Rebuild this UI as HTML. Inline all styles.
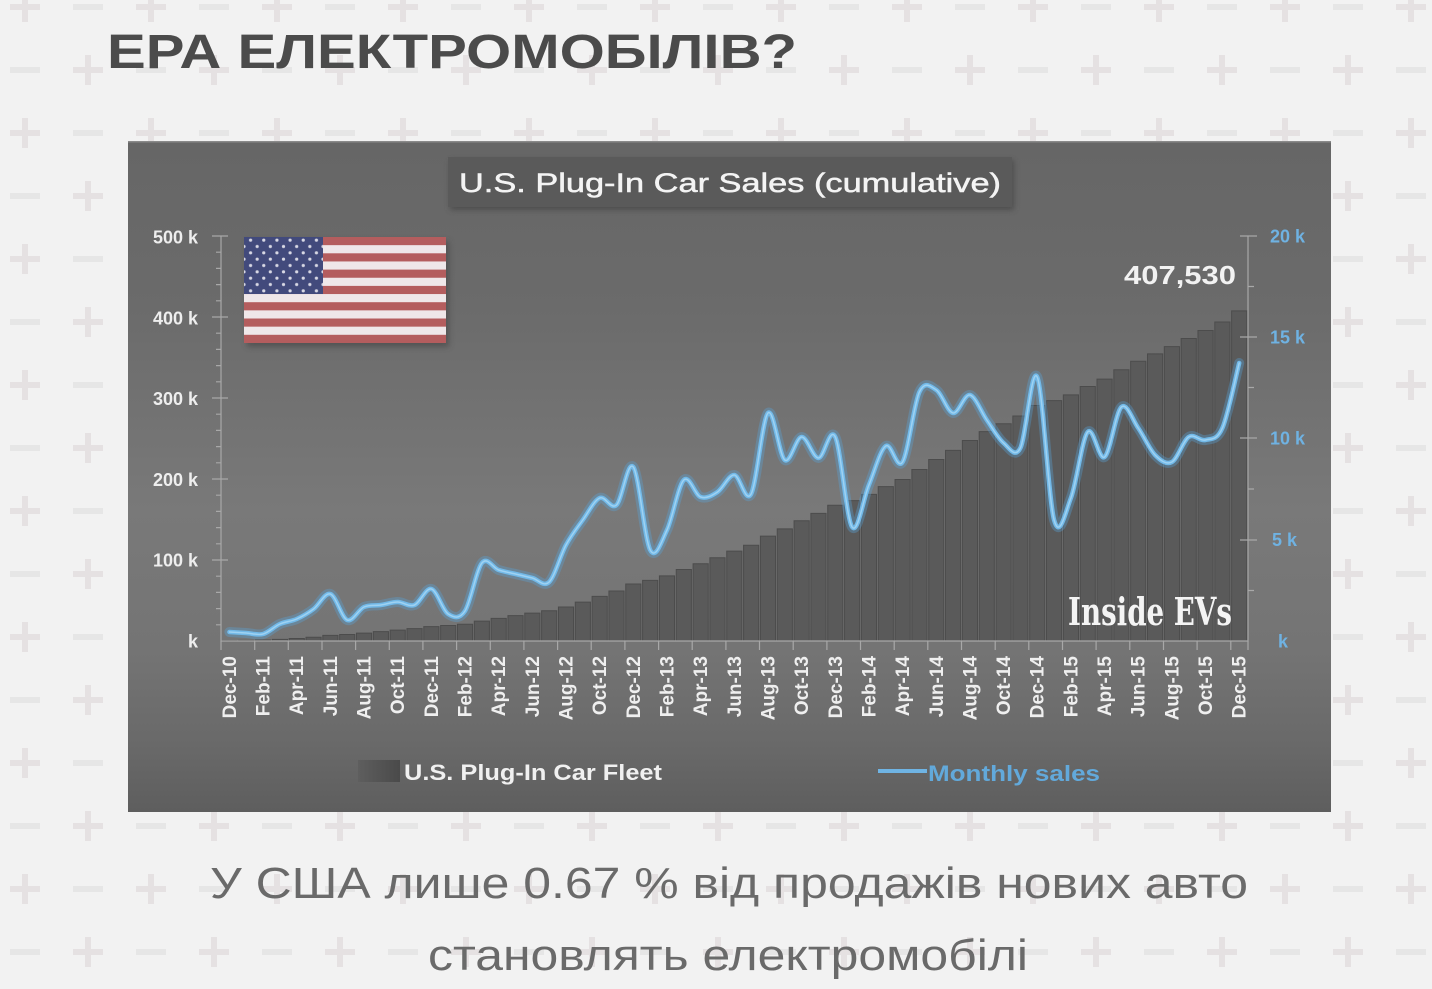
<!DOCTYPE html>
<html><head><meta charset="utf-8">
<style>
html,body{margin:0;padding:0;background:#f2f2f2;}
svg{display:block;}
.ax{font-family:"Liberation Sans",sans-serif;font-weight:bold;font-size:18px;fill:#eeeeee;}
.axr{font-family:"Liberation Sans",sans-serif;font-weight:bold;font-size:18px;fill:#6fb2e2;}
.xl{font-family:"Liberation Sans",sans-serif;font-weight:bold;font-size:19px;fill:#efefef;}
.glow{fill:none;stroke:#5aa6dc;stroke-opacity:0.35;stroke-width:10;stroke-linejoin:round;stroke-linecap:round;}
.ln{fill:none;stroke:#72b9e8;stroke-width:4.5;stroke-linejoin:round;stroke-linecap:round;}
.ln2{fill:none;stroke:#9fd2f2;stroke-width:1.5;stroke-linejoin:round;stroke-linecap:round;}
</style></head>
<body>
<svg width="1432" height="989" viewBox="0 0 1432 989" xmlns="http://www.w3.org/2000/svg">
<defs>
  <pattern id="pm" x="-6.5" y="-24.5" width="126" height="126" patternUnits="userSpaceOnUse">
    <g fill="#e5e1e2">
      <rect x="16.5" y="28.5" width="30" height="6"/><rect x="28.5" y="16.5" width="6" height="30"/>
      <rect x="79.5" y="91.5" width="30" height="6"/><rect x="91.5" y="79.5" width="6" height="30"/>
    </g>
    <g fill="#e6e6e6">
      <rect x="79.5" y="28.5" width="30" height="6"/>
      <rect x="16.5" y="91.5" width="30" height="6"/>
    </g>
  </pattern>
  <linearGradient id="pbg" x1="0" y1="0" x2="0" y2="1">
    <stop offset="0" stop-color="#666666"/>
    <stop offset="0.25" stop-color="#6b6b6b"/>
    <stop offset="0.55" stop-color="#797979"/>
    <stop offset="0.76" stop-color="#747474"/>
    <stop offset="0.9" stop-color="#696969"/>
    <stop offset="1" stop-color="#5e5e5e"/>
  </linearGradient>
  <linearGradient id="sw" x1="0" y1="0" x2="1" y2="0">
    <stop offset="0" stop-color="#5e5e5e"/>
    <stop offset="1" stop-color="#4a4a4a"/>
  </linearGradient>
  <filter id="blur3" x="-20%" y="-20%" width="140%" height="140%"><feGaussianBlur stdDeviation="3"/></filter>
  <pattern id="stars" x="244" y="237" width="13.17" height="12.67" patternUnits="userSpaceOnUse">
    <circle cx="6.58" cy="3.2" r="1.6" fill="#d8d8e4"/>
    <circle cx="0" cy="9.5" r="1.6" fill="#d8d8e4"/>
    <circle cx="13.17" cy="9.5" r="1.6" fill="#d8d8e4"/>
  </pattern>
</defs>

<rect x="0" y="0" width="1432" height="989" fill="#f2f2f2"/>
<rect x="0" y="0" width="1432" height="989" fill="url(#pm)"/>

<text x="107" y="68" font-family="'Liberation Sans','DejaVu Sans',sans-serif" font-weight="bold" font-size="48" fill="#4b4b4b" textLength="690" lengthAdjust="spacingAndGlyphs">ЕРА ЕЛЕКТРОМОБІЛІВ?</text>

<rect x="128" y="141" width="1203" height="671" fill="url(#pbg)"/>
<rect x="128" y="141" width="1203" height="1.5" fill="#8a8a8a"/>

<rect x="450" y="160" width="564" height="50" fill="#3e3e3e" opacity="0.6" filter="url(#blur3)"/>
<rect x="448" y="157" width="564" height="50" fill="#5a5a5a"/>
<text x="730" y="192" text-anchor="middle" font-family="'Liberation Sans',sans-serif" font-size="27" fill="#f4f4f4" stroke="#f4f4f4" stroke-width="0.5" textLength="542" lengthAdjust="spacingAndGlyphs">U.S. Plug-In Car Sales (cumulative)</text>

<rect x="247" y="241" width="202" height="106" fill="#3a3a3a" opacity="0.5" filter="url(#blur3)"/>
<g>
  <rect x="244" y="237" width="202" height="106" fill="#efe7e9"/>
  <g fill="#b45d5e">
    <rect x="244" y="237" width="202" height="8.15"/>
    <rect x="244" y="253.3" width="202" height="8.15"/>
    <rect x="244" y="269.6" width="202" height="8.15"/>
    <rect x="244" y="285.9" width="202" height="8.15"/>
    <rect x="244" y="302.2" width="202" height="8.15"/>
    <rect x="244" y="318.5" width="202" height="8.15"/>
    <rect x="244" y="334.8" width="202" height="8.2"/>
  </g>
  <rect x="244" y="237" width="79" height="57" fill="#424a7c"/>
  <rect x="244" y="237" width="79" height="57" fill="url(#stars)"/>
</g>

<g transform="translate(221,641) scale(16.83,-0.81)" fill="#5a5a5a" stroke="#4c4c4c" stroke-width="1">
<rect vector-effect="non-scaling-stroke" x="0.05" y="0" width="0.9" height="0.44"/>
<rect vector-effect="non-scaling-stroke" x="1.05" y="0" width="0.9" height="0.84"/>
<rect vector-effect="non-scaling-stroke" x="2.05" y="0" width="0.9" height="1.19"/>
<rect vector-effect="non-scaling-stroke" x="3.05" y="0" width="0.9" height="2.03"/>
<rect vector-effect="non-scaling-stroke" x="4.05" y="0" width="0.9" height="3.12"/>
<rect vector-effect="non-scaling-stroke" x="5.05" y="0" width="0.9" height="4.70"/>
<rect vector-effect="non-scaling-stroke" x="6.05" y="0" width="0.9" height="7.02"/>
<rect vector-effect="non-scaling-stroke" x="7.05" y="0" width="0.9" height="8.06"/>
<rect vector-effect="non-scaling-stroke" x="8.05" y="0" width="0.9" height="9.74"/>
<rect vector-effect="non-scaling-stroke" x="9.05" y="0" width="0.9" height="11.52"/>
<rect vector-effect="non-scaling-stroke" x="10.05" y="0" width="0.9" height="13.45"/>
<rect vector-effect="non-scaling-stroke" x="11.05" y="0" width="0.9" height="15.23"/>
<rect vector-effect="non-scaling-stroke" x="12.05" y="0" width="0.9" height="17.80"/>
<rect vector-effect="non-scaling-stroke" x="13.05" y="0" width="0.9" height="19.13"/>
<rect vector-effect="non-scaling-stroke" x="14.05" y="0" width="0.9" height="20.61"/>
<rect vector-effect="non-scaling-stroke" x="15.05" y="0" width="0.9" height="24.46"/>
<rect vector-effect="non-scaling-stroke" x="16.05" y="0" width="0.9" height="27.97"/>
<rect vector-effect="non-scaling-stroke" x="17.05" y="0" width="0.9" height="31.28"/>
<rect vector-effect="non-scaling-stroke" x="18.05" y="0" width="0.9" height="34.39"/>
<rect vector-effect="non-scaling-stroke" x="19.05" y="0" width="0.9" height="37.30"/>
<rect vector-effect="non-scaling-stroke" x="20.05" y="0" width="0.9" height="42.04"/>
<rect vector-effect="non-scaling-stroke" x="21.05" y="0" width="0.9" height="48.02"/>
<rect vector-effect="non-scaling-stroke" x="22.05" y="0" width="0.9" height="55.08"/>
<rect vector-effect="non-scaling-stroke" x="23.05" y="0" width="0.9" height="61.80"/>
<rect vector-effect="non-scaling-stroke" x="24.05" y="0" width="0.9" height="70.39"/>
<rect vector-effect="non-scaling-stroke" x="25.05" y="0" width="0.9" height="74.88"/>
<rect vector-effect="non-scaling-stroke" x="26.05" y="0" width="0.9" height="80.36"/>
<rect vector-effect="non-scaling-stroke" x="27.05" y="0" width="0.9" height="88.31"/>
<rect vector-effect="non-scaling-stroke" x="28.05" y="0" width="0.9" height="95.42"/>
<rect vector-effect="non-scaling-stroke" x="29.05" y="0" width="0.9" height="102.78"/>
<rect vector-effect="non-scaling-stroke" x="30.05" y="0" width="0.9" height="110.98"/>
<rect vector-effect="non-scaling-stroke" x="31.05" y="0" width="0.9" height="118.24"/>
<rect vector-effect="non-scaling-stroke" x="32.05" y="0" width="0.9" height="129.50"/>
<rect vector-effect="non-scaling-stroke" x="33.05" y="0" width="0.9" height="138.44"/>
<rect vector-effect="non-scaling-stroke" x="34.05" y="0" width="0.9" height="148.51"/>
<rect vector-effect="non-scaling-stroke" x="35.05" y="0" width="0.9" height="157.55"/>
<rect vector-effect="non-scaling-stroke" x="36.05" y="0" width="0.9" height="167.62"/>
<rect vector-effect="non-scaling-stroke" x="37.05" y="0" width="0.9" height="173.25"/>
<rect vector-effect="non-scaling-stroke" x="38.05" y="0" width="0.9" height="180.95"/>
<rect vector-effect="non-scaling-stroke" x="39.05" y="0" width="0.9" height="190.58"/>
<rect vector-effect="non-scaling-stroke" x="40.05" y="0" width="0.9" height="199.42"/>
<rect vector-effect="non-scaling-stroke" x="41.05" y="0" width="0.9" height="211.72"/>
<rect vector-effect="non-scaling-stroke" x="42.05" y="0" width="0.9" height="224.12"/>
<rect vector-effect="non-scaling-stroke" x="43.05" y="0" width="0.9" height="235.38"/>
<rect vector-effect="non-scaling-stroke" x="44.05" y="0" width="0.9" height="247.53"/>
<rect vector-effect="non-scaling-stroke" x="45.05" y="0" width="0.9" height="258.44"/>
<rect vector-effect="non-scaling-stroke" x="46.05" y="0" width="0.9" height="268.22"/>
<rect vector-effect="non-scaling-stroke" x="47.05" y="0" width="0.9" height="277.75"/>
<rect vector-effect="non-scaling-stroke" x="48.05" y="0" width="0.9" height="290.79"/>
<rect vector-effect="non-scaling-stroke" x="49.05" y="0" width="0.9" height="296.77"/>
<rect vector-effect="non-scaling-stroke" x="50.05" y="0" width="0.9" height="303.83"/>
<rect vector-effect="non-scaling-stroke" x="51.05" y="0" width="0.9" height="314.15"/>
<rect vector-effect="non-scaling-stroke" x="52.05" y="0" width="0.9" height="323.24"/>
<rect vector-effect="non-scaling-stroke" x="53.05" y="0" width="0.9" height="334.80"/>
<rect vector-effect="non-scaling-stroke" x="54.05" y="0" width="0.9" height="345.32"/>
<rect vector-effect="non-scaling-stroke" x="55.05" y="0" width="0.9" height="354.51"/>
<rect vector-effect="non-scaling-stroke" x="56.05" y="0" width="0.9" height="363.35"/>
<rect vector-effect="non-scaling-stroke" x="57.05" y="0" width="0.9" height="373.42"/>
<rect vector-effect="non-scaling-stroke" x="58.05" y="0" width="0.9" height="383.35"/>
<rect vector-effect="non-scaling-stroke" x="59.05" y="0" width="0.9" height="393.87"/>
<rect vector-effect="non-scaling-stroke" x="60.05" y="0" width="0.9" height="407.53"/>
</g>

<g stroke="#a8a8a8" stroke-width="1.2" fill="none">
  <path d="M221,236V641H1248V236"/>
  <path d="M212,236H228M212,317H228M212,398H228M212,479H228M212,560H228"/>
  <path d="M216,252.2H221M216,268.4H221M216,284.6H221M216,300.8H221M216,333.2H221M216,349.4H221M216,365.6H221M216,381.8H221M216,414.2H221M216,430.4H221M216,446.6H221M216,462.8H221M216,495.2H221M216,511.4H221M216,527.6H221M216,543.8H221M216,576.2H221M216,592.4H221M216,608.6H221M216,624.8H221"/>
  <path d="M1240,236H1257M1240,337H1257M1240,438H1257M1240,540H1257M1248,286.5H1254M1248,387.5H1254M1248,489H1254M1248,590.5H1254"/>
  <path d="M221,641v9M254.7,641v9M288.3,641v9M322,641v9M355.6,641v9M389.3,641v9M422.9,641v9M456.6,641v9M490.3,641v9M523.9,641v9M557.6,641v9M591.2,641v9M624.9,641v9M658.6,641v9M692.2,641v9M725.9,641v9M759.5,641v9M793.2,641v9M826.9,641v9M860.5,641v9M894.2,641v9M927.8,641v9M961.5,641v9M995.2,641v9M1028.8,641v9M1062.5,641v9M1096.1,641v9M1129.8,641v9M1163.5,641v9M1197.1,641v9M1230.8,641v9M1248,641v9"/>
</g>

<g class="ax" text-anchor="end">
  <text x="198" y="243.5">500 k</text>
  <text x="198" y="324.5">400 k</text>
  <text x="198" y="405">300 k</text>
  <text x="198" y="486">200 k</text>
  <text x="198" y="566.5">100 k</text>
  <text x="198" y="647.5">k</text>
</g>
<g class="axr">
  <text x="1270" y="242.5">20 k</text>
  <text x="1270" y="343.5">15 k</text>
  <text x="1270" y="444.5">10 k</text>
  <text x="1272" y="546">5 k</text>
  <text x="1278" y="647.5">k</text>
</g>

<g class="xl" text-anchor="end">
  <text transform="translate(235.9,656) rotate(-90)">Dec-10</text>
  <text transform="translate(269.6,656) rotate(-90)">Feb-11</text>
  <text transform="translate(303.2,656) rotate(-90)">Apr-11</text>
  <text transform="translate(336.9,656) rotate(-90)">Jun-11</text>
  <text transform="translate(370.5,656) rotate(-90)">Aug-11</text>
  <text transform="translate(404.2,656) rotate(-90)">Oct-11</text>
  <text transform="translate(437.9,656) rotate(-90)">Dec-11</text>
  <text transform="translate(471.5,656) rotate(-90)">Feb-12</text>
  <text transform="translate(505.2,656) rotate(-90)">Apr-12</text>
  <text transform="translate(538.8,656) rotate(-90)">Jun-12</text>
  <text transform="translate(572.5,656) rotate(-90)">Aug-12</text>
  <text transform="translate(606.2,656) rotate(-90)">Oct-12</text>
  <text transform="translate(639.8,656) rotate(-90)">Dec-12</text>
  <text transform="translate(673.5,656) rotate(-90)">Feb-13</text>
  <text transform="translate(707.1,656) rotate(-90)">Apr-13</text>
  <text transform="translate(740.8,656) rotate(-90)">Jun-13</text>
  <text transform="translate(774.5,656) rotate(-90)">Aug-13</text>
  <text transform="translate(808.1,656) rotate(-90)">Oct-13</text>
  <text transform="translate(841.8,656) rotate(-90)">Dec-13</text>
  <text transform="translate(875.4,656) rotate(-90)">Feb-14</text>
  <text transform="translate(909.1,656) rotate(-90)">Apr-14</text>
  <text transform="translate(942.8,656) rotate(-90)">Jun-14</text>
  <text transform="translate(976.4,656) rotate(-90)">Aug-14</text>
  <text transform="translate(1010.1,656) rotate(-90)">Oct-14</text>
  <text transform="translate(1043.7,656) rotate(-90)">Dec-14</text>
  <text transform="translate(1077.4,656) rotate(-90)">Feb-15</text>
  <text transform="translate(1111.1,656) rotate(-90)">Apr-15</text>
  <text transform="translate(1144.7,656) rotate(-90)">Jun-15</text>
  <text transform="translate(1178.4,656) rotate(-90)">Aug-15</text>
  <text transform="translate(1212,656) rotate(-90)">Oct-15</text>
  <text transform="translate(1245.7,656) rotate(-90)">Dec-15</text>
</g>

<text x="1124" y="284" font-family="'Liberation Sans',sans-serif" font-weight="bold" font-size="26" fill="#f2f2f2" textLength="112" lengthAdjust="spacingAndGlyphs">407,530</text>

<text x="1068" y="625" font-family="'DejaVu Serif','Liberation Serif',serif" font-weight="bold" font-size="38" fill="#f4f4f4" textLength="164" lengthAdjust="spacingAndGlyphs">Inside EVs</text>

<g id="lines">
<polyline class="glow" points="229.4,632 246.2,633 263.1,634 279.9,624 296.7,619 313.6,609 330.4,594 347.2,620 364,607 380.9,605 397.7,602 414.5,605 431.4,589 448.2,614 465,611 481.9,563 498.7,570 515.5,574 532.3,578 549.2,582 566,545 582.8,520 599.7,498 616.5,505 633.3,467 650.2,550 667,530 683.8,480 700.6,497 717.5,492 734.3,475 751.1,494 768,413 784.8,460 801.6,437 818.5,458 835.3,437 852.1,527 868.9,485 885.8,446 902.6,462 919.4,392 936.3,390 953.1,413 969.9,395 986.8,420 1003.6,443 1020.4,448 1037.2,377 1054.1,520 1070.9,498 1087.7,432 1104.6,457 1121.4,407 1138.2,428 1155.1,455 1171.9,462 1188.7,437 1205.5,440 1222.4,428 1239.2,363"/>
<polyline class="ln" points="229.4,632 246.2,633 263.1,634 279.9,624 296.7,619 313.6,609 330.4,594 347.2,620 364,607 380.9,605 397.7,602 414.5,605 431.4,589 448.2,614 465,611 481.9,563 498.7,570 515.5,574 532.3,578 549.2,582 566,545 582.8,520 599.7,498 616.5,505 633.3,467 650.2,550 667,530 683.8,480 700.6,497 717.5,492 734.3,475 751.1,494 768,413 784.8,460 801.6,437 818.5,458 835.3,437 852.1,527 868.9,485 885.8,446 902.6,462 919.4,392 936.3,390 953.1,413 969.9,395 986.8,420 1003.6,443 1020.4,448 1037.2,377 1054.1,520 1070.9,498 1087.7,432 1104.6,457 1121.4,407 1138.2,428 1155.1,455 1171.9,462 1188.7,437 1205.5,440 1222.4,428 1239.2,363"/>
<polyline class="ln2" points="229.4,632 246.2,633 263.1,634 279.9,624 296.7,619 313.6,609 330.4,594 347.2,620 364,607 380.9,605 397.7,602 414.5,605 431.4,589 448.2,614 465,611 481.9,563 498.7,570 515.5,574 532.3,578 549.2,582 566,545 582.8,520 599.7,498 616.5,505 633.3,467 650.2,550 667,530 683.8,480 700.6,497 717.5,492 734.3,475 751.1,494 768,413 784.8,460 801.6,437 818.5,458 835.3,437 852.1,527 868.9,485 885.8,446 902.6,462 919.4,392 936.3,390 953.1,413 969.9,395 986.8,420 1003.6,443 1020.4,448 1037.2,377 1054.1,520 1070.9,498 1087.7,432 1104.6,457 1121.4,407 1138.2,428 1155.1,455 1171.9,462 1188.7,437 1205.5,440 1222.4,428 1239.2,363"/>
</g>

<rect x="358" y="760" width="42" height="22" fill="url(#sw)"/>
<text x="404" y="780" font-family="'Liberation Sans',sans-serif" font-weight="bold" font-size="22" fill="#f0f0f0" textLength="258" lengthAdjust="spacingAndGlyphs">U.S. Plug-In Car Fleet</text>
<line x1="878" y1="771" x2="927" y2="771" stroke="#6fb4e4" stroke-width="4"/>
<text x="928" y="781" font-family="'Liberation Sans',sans-serif" font-weight="bold" font-size="22" fill="#62a9db" textLength="172" lengthAdjust="spacingAndGlyphs">Monthly sales</text>

<text x="210" y="898" font-family="'Liberation Sans','DejaVu Sans',sans-serif" font-size="44" fill="#6a6a6a" textLength="1038" lengthAdjust="spacingAndGlyphs">У США лише 0.67 % від продажів нових авто</text>
<text x="428" y="970" font-family="'Liberation Sans','DejaVu Sans',sans-serif" font-size="44" fill="#6a6a6a" textLength="600" lengthAdjust="spacingAndGlyphs">становлять електромобілі</text>
</svg>
<script>
(function(){
  var NS="http://www.w3.org/2000/svg";
  var g=document.getElementById('lines');
  var pls=g.querySelectorAll('polyline');
  for(var k=0;k<pls.length;k++){
    var pl=pls[k];
    var pts=pl.getAttribute('points').trim().split(/\s+/).map(function(s){var a=s.split(',');return [+a[0],+a[1]];});
    var d='M'+pts[0][0]+','+pts[0][1];
    for(var i=0;i<pts.length-1;i++){
      var p0=pts[i-1]||pts[i],p1=pts[i],p2=pts[i+1],p3=pts[i+2]||p2;
      var c1x=p1[0]+(p2[0]-p0[0])/6,c1y=p1[1]+(p2[1]-p0[1])/6;
      var c2x=p2[0]-(p3[0]-p1[0])/6,c2y=p2[1]-(p3[1]-p1[1])/6;
      d+=' C'+c1x.toFixed(1)+','+c1y.toFixed(1)+' '+c2x.toFixed(1)+','+c2y.toFixed(1)+' '+p2[0]+','+p2[1];
    }
    var p=document.createElementNS(NS,'path');
    p.setAttribute('d',d);
    p.setAttribute('class',pl.getAttribute('class'));
    g.insertBefore(p,pl);
    pl.style.display='none';
  }
})();
</script>
</body></html>
